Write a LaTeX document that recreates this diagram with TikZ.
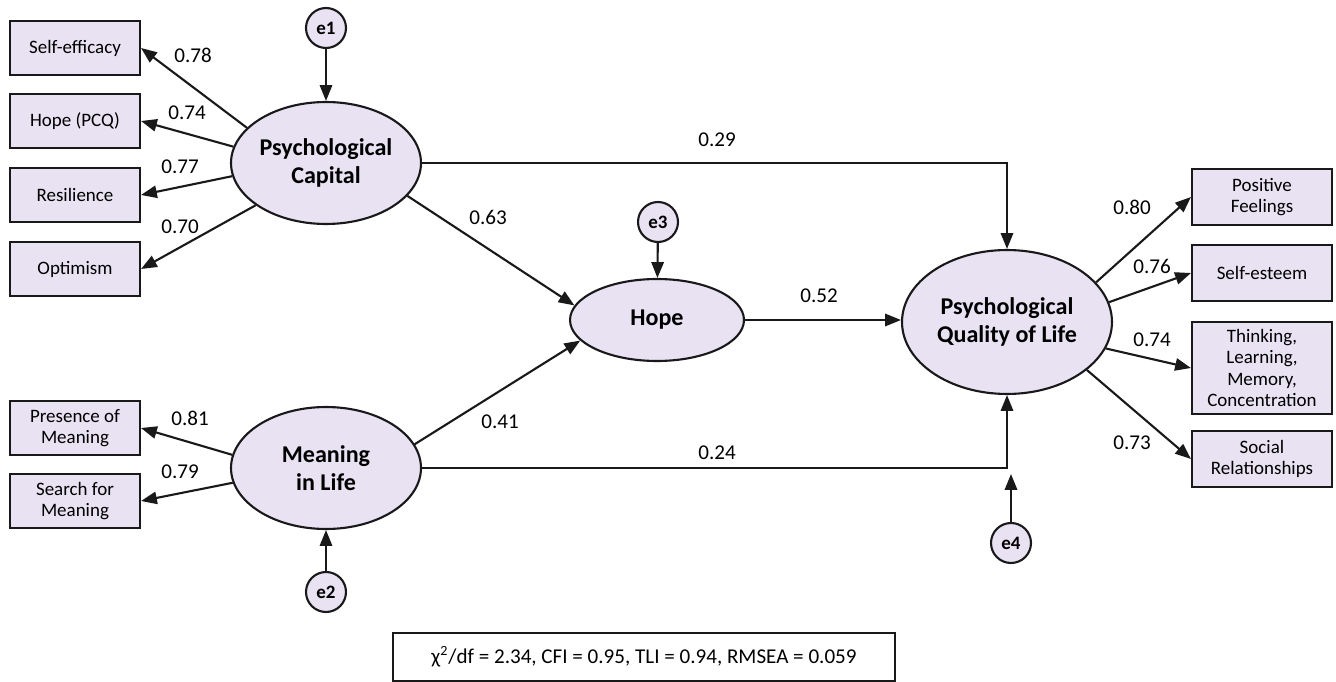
\documentclass[tikz,border=0pt]{standalone}
\usepackage{fontspec}
\setmainfont{Carlito}
\usetikzlibrary{shapes.geometric,arrows.meta}
\definecolor{lav}{RGB}{232,226,242}
\definecolor{ink}{RGB}{25,25,25}

\tikzset{
  obsbox/.style={draw=ink,fill=lav,line width=1.2pt,minimum width=2.6cm,minimum height=1.08cm,
    align=center,font=\fontsize{10.8}{12.2}\selectfont,inner sep=1pt},
  latent/.style={draw=ink,fill=lav,line width=1.2pt,ellipse,inner sep=0pt,align=center,
    font=\fontsize{13.7}{16}\selectfont\bfseries},
  errc/.style={draw=ink,fill=lav,line width=1.2pt,circle,minimum size=0.8cm,inner sep=0pt,
    font=\fontsize{10.8}{12}\selectfont\bfseries},
  coef/.style={font=\fontsize{12}{13}\selectfont,inner sep=1pt},
  path/.style={draw=ink,line width=1.2pt,-{Triangle[length=9pt,width=7pt]}}
}

\begin{document}
\begin{tikzpicture}[x=0.02cm,y=-0.02cm]
\useasboundingbox (0,0) rectangle (1336,682);
%\draw[step=50,lightgray,very thin] (0,0) grid (1336,682);

% psychological capital and its indicators
\node[latent,minimum width=3.8cm,minimum height=2.44cm] (pc) at (326,163) {Psychological\\Capital};
\node[errc] (e1) at (326,28) {e1};
\node[obsbox] (selfeff) at (75,48) {Self-efficacy};
\node[obsbox] (hopepcq) at (75,121) {Hope (PCQ)};
\node[obsbox] (resil) at (75,195) {Resilience};
\node[obsbox] (optim) at (75,269) {Optimism};

% meaning in life and its indicators
\node[latent,minimum width=3.8cm,minimum height=2.44cm] (mil) at (326,468) {Meaning\\in Life};
\node[errc] (e2) at (326,592) {e2};
\node[obsbox] (presm) at (75,428) {Presence of\\Meaning};
\node[obsbox] (searchm) at (75,501) {Search for\\Meaning};

% hope
\node[latent,minimum width=3.48cm,minimum height=1.64cm] (hope) at (657,320) {Hope};
\node[errc] (e3) at (658,222) {e3};

% psychological quality of life and its indicators
\node[latent,minimum width=4.2cm,minimum height=2.88cm] (pql) at (1007,322) {Psychological\\Quality of Life};
\node[errc] (e4) at (1011,543) {e4};
\coordinate (e4tip) at (1011,474);
\node[obsbox,minimum width=2.8cm,minimum height=1.12cm] (posf) at (1262,197) {Positive\\Feelings};
\node[obsbox,minimum width=2.8cm,minimum height=1.12cm] (selfest) at (1262,273) {Self-esteem};
\node[obsbox,minimum width=2.8cm,minimum height=1.84cm] (think) at (1262,368) {Thinking,\\Learning,\\Memory,\\Concentration};
\node[obsbox,minimum width=2.8cm,minimum height=1.12cm] (social) at (1262,459) {Social\\Relationships};

% fit indices
\node[draw=ink,line width=1.2pt,minimum width=10.04cm,minimum height=0.96cm,
  font=\fontsize{12}{13}\selectfont] (fit) at (644,657)
  {χ\textsuperscript{2}/df = 2.34, CFI = 0.95, TLI = 0.94, RMSEA = 0.059};

% paths
\draw[path] (e1) -- (pc);
\draw[path] (e2) -- (mil);
\draw[path] (e3) -- (hope);
\draw[path] (e4) -- (e4tip);
\draw[path] (pc.156) -- (selfeff.east);
\draw[path] (pc.170) -- (hopepcq.east);
\draw[path] (pc.188) -- (resil.east);
\draw[path] (pc.211) -- (optim.east);
\draw[path] (mil.172) -- (presm.east);
\draw[path] (mil.189) -- (searchm.east);
\draw[path] (pc.338) -- (hope.170);
\draw[path] (mil.15) -- (hope.195);
\draw[path] (hope.east) -- (hope.east -| pql.west);
\draw[path] (pc.east) -| (pql.north);
\draw[path] (mil.east) -| (pql.south);
\draw[path] (pql.24) -- (posf.west);
\draw[path] (pql.11) -- (selfest.west);
\draw[path] (pql.345) -- (think.west);
\draw[path] (pql.329) -- (social.west);

% coefficients
\node[coef] (c78) at (193,55) {0.78};
\node[coef] (c74) at (187,113) {0.74};
\node[coef] (c77) at (180,167) {0.77};
\node[coef] (c70) at (180,227) {0.70};
\node[coef] (c81) at (190,418) {0.81};
\node[coef] (c79) at (180,472) {0.79};
\node[coef] (c29) at (717,140) {0.29};
\node[coef] (c63) at (488,217) {0.63};
\node[coef] (c52) at (819,296) {0.52};
\node[coef] (c41) at (500,422) {0.41};
\node[coef] (c24) at (717,453) {0.24};
\node[coef] (c80) at (1132,207) {0.80};
\node[coef] (c76) at (1152,266) {0.76};
\node[coef] (c74b) at (1152,340) {0.74};
\node[coef] (c73) at (1132,443) {0.73};
\end{tikzpicture}
\end{document}
